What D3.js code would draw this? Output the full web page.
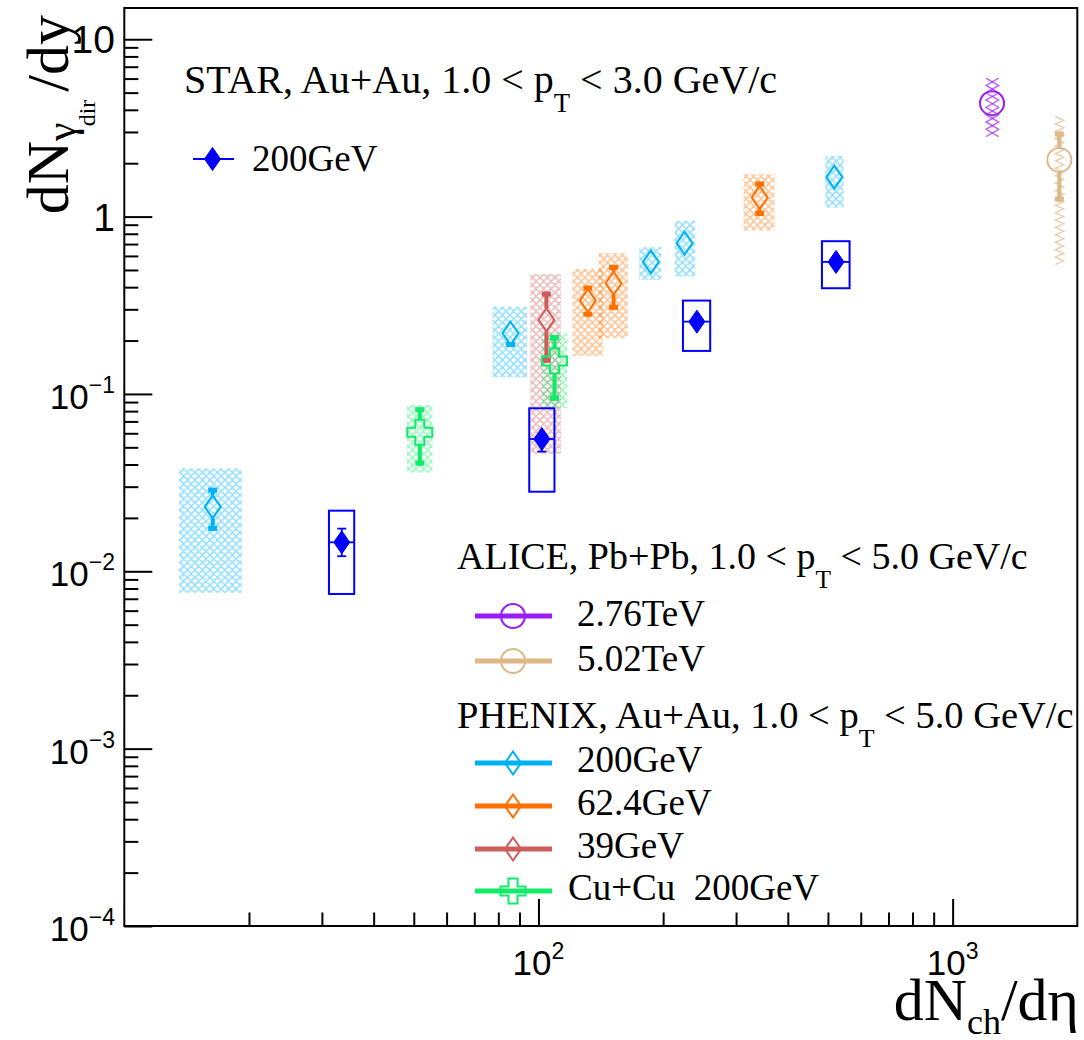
<!DOCTYPE html>
<html>
<head>
<meta charset="utf-8">
<script src="https://cdn.jsdelivr.net/npm/d3@7"></script>
<style>
  body { margin: 0; background: #fff; }
  text { font-family: "Liberation Serif", "Times New Roman", serif; }
  .tick-label { font-family: "Liberation Sans", Arial, sans-serif; }
</style>
</head>
<body>
<script>
// ---- data ----
// PHENIX Au+Au 200 GeV
const phx200X      = [16.35, 85.6, 186.8, 225.3, 518];
const phx200Y      = [0.0231, 0.220, 0.555, 0.708, 1.668];
const phx200StatHi = [0.0296, 0.240, 0.60, 0.76, 1.80];
const phx200StatLo = [0.0169, 0.184, 0.51, 0.66, 1.54];
const phx200SysHi  = [0.0381, 0.311, 0.672, 0.949, 2.20];
const phx200SysLo  = [0.00757, 0.124, 0.4396, 0.459, 1.124];
const phx200BoxLo  = [13.56, 77.4, 175.1, 213.1, 492.6];
const phx200BoxHi  = [19.21, 93.8, 197.9, 239.1, 545.4];

// PHENIX Au+Au 62.4 GeV
const phx62X      = [131.6, 151.8, 342];
const phx62Y      = [0.336, 0.421, 1.28];
const phx62StatHi = [0.408, 0.534, 1.575];
const phx62StatLo = [0.273, 0.298, 1.009];
const phx62SysHi  = [0.507, 0.622, 1.734];
const phx62SysLo  = [0.1637, 0.206, 0.834];
const phx62BoxLo  = [120.8, 139.6, 312.7];
const phx62BoxHi  = [143.0, 164.4, 371.5];

// PHENIX Au+Au 39 GeV
const phx39X      = [104.5];
const phx39Y      = [0.2615];
const phx39StatHi = [0.3776];
const phx39StatLo = [0.150];
const phx39SysHi  = [0.475];
const phx39SysLo  = [0.0459];
const phx39BoxLo  = [95.5];
const phx39BoxHi  = [113.4];

// PHENIX Cu+Cu 200 GeV
const cucuX      = [51.7, 109.3];
const cucuY      = [0.0608, 0.1535];
const cucuStatHi = [0.0841, 0.215];
const cucuStatLo = [0.0394, 0.0917];
const cucuSysHi  = [0.0867, 0.220];
const cucuSysLo  = [0.036, 0.083];
const cucuBoxLo  = [48.1, 101.9];
const cucuBoxHi  = [55.5, 117.5];

// STAR Au+Au 200 GeV
const starX      = [33.5, 101.9, 241.3, 523];
const starY      = [0.01457, 0.0557, 0.2557, 0.555];
const starStatHi = [0.0174, 0.060, 0.27, 0.58];
const starStatLo = [0.01216, 0.0473, 0.24, 0.53];
const starSysHi  = [0.02197, 0.0830, 0.336, 0.7265];
const starSysLo  = [0.00745, 0.0281, 0.1748, 0.3945];
const starBoxLo  = [31.2, 95.0, 223.3, 483.6];
const starBoxHi  = [35.9, 109.3, 259.8, 563.9];

// ALICE Pb+Pb
const alice276X = [1245], alice276Y = [4.36];
const alice276StatHi = [4.6], alice276StatLo = [4.1];
const alice276SysHi = [6.03], alice276SysLo = [2.65];
const alice276BoxLo = [1204], alice276BoxHi = [1292];

const alice502X = [1810], alice502Y = [2.088];
const alice502StatHi = [3.015], alice502StatLo = [1.215];
const alice502SysHi = [3.665], alice502SysLo = [0.512];
const alice502BoxLo = [1770], alice502BoxHi = [1854];

// axis ticks
const yMajor = [1e-4, 1e-3, 1e-2, 1e-1, 1, 10];
const yExp   = [-4, -3, -2, -1, 0, 1];
const xMajor = [100, 1000];
const xExp   = [2, 3];

const aliceLabels  = ["2.76TeV", "5.02TeV"];
const phenixLabels = ["200GeV", "62.4GeV", "39GeV", "Cu+Cu\u00A0\u00A0200GeV"];

// colours
const cPhx200 = "#00b2f5", cPhx62 = "#ff7000", cPhx39 = "#cd5c5c",
      cCuCu = "#12eb6a", cStar = "#0000ff", cA276 = "#9a1df5", cA502 = "#deb887";

// ---- build series ----
function series(X, Y, sH, sL, yH, yL, bL, bH) {
  return X.map((v, i) => ({ x: v, y: Y[i], statHi: sH[i], statLo: sL[i],
    sysHi: yH[i], sysLo: yL[i], boxLo: bL[i], boxHi: bH[i] }));
}
const phenix = [
  { name: "p200", color: cPhx200, marker: "diamond",
    data: series(phx200X, phx200Y, phx200StatHi, phx200StatLo, phx200SysHi, phx200SysLo, phx200BoxLo, phx200BoxHi) },
  { name: "p62", color: cPhx62, marker: "diamond",
    data: series(phx62X, phx62Y, phx62StatHi, phx62StatLo, phx62SysHi, phx62SysLo, phx62BoxLo, phx62BoxHi) },
  { name: "p39", color: cPhx39, marker: "diamond",
    data: series(phx39X, phx39Y, phx39StatHi, phx39StatLo, phx39SysHi, phx39SysLo, phx39BoxLo, phx39BoxHi) },
  { name: "cucu", color: cCuCu, marker: "cross",
    data: series(cucuX, cucuY, cucuStatHi, cucuStatLo, cucuSysHi, cucuSysLo, cucuBoxLo, cucuBoxHi) }
];
const star = series(starX, starY, starStatHi, starStatLo, starSysHi, starSysLo, starBoxLo, starBoxHi);
const alice = [
  { name: "a276", color: cA276, double: true, step: 7.3,
    data: series(alice276X, alice276Y, alice276StatHi, alice276StatLo, alice276SysHi, alice276SysLo, alice276BoxLo, alice276BoxHi) },
  { name: "a502", color: cA502, double: false, step: 3.7,
    data: series(alice502X, alice502Y, alice502StatHi, alice502StatLo, alice502SysHi, alice502SysLo, alice502BoxLo, alice502BoxHi) }
];

// ---- setup ----
const width = 1084, height = 1040;
const x = d3.scaleLog().domain([10, 2000]).range([124.3, 1077.3]);
const y = d3.scaleLog().domain([1e-4, 15]).range([926, 8]);

const svg = d3.select("body").append("svg")
  .attr("width", width).attr("height", height)
  .attr("viewBox", [0, 0, width, height]);

svg.append("rect").attr("width", width).attr("height", height).attr("fill", "#fff");

// hatch patterns
const defs = svg.append("defs");
phenix.forEach(s => {
  const p = defs.append("pattern").attr("id", "hatch-" + s.name)
    .attr("patternUnits", "userSpaceOnUse").attr("width", 7.5).attr("height", 7.5);
  p.append("path").attr("d", "M0,0 L7.5,7.5 M7.5,0 L0,7.5 M-1,6.5 L1,8.5 M6.5,-1 L8.5,1")
    .attr("stroke", s.color).attr("stroke-opacity", 0.42).attr("stroke-width", 1.5).attr("fill", "none");
});

const DW = 8, DH = 11.5;   // diamond half sizes
const CR = 12.5, CA = 4.5; // cross half size & arm half width

function markerPath(shape, cx, cy) {
  if (shape === "diamond")
    return `M${cx},${cy - DH}L${cx + DW},${cy}L${cx},${cy + DH}L${cx - DW},${cy}Z`;
  // open cross
  return `M${cx - CA},${cy - CR}H${cx + CA}V${cy - CA}H${cx + CR}V${cy + CA}H${cx + CA}V${cy + CR}` +
         `H${cx - CA}V${cy + CA}H${cx - CR}V${cy - CA}H${cx - CA}Z`;
}

// ---- systematic hatches (PHENIX) ----
const gSys = svg.append("g");
phenix.forEach(s => {
  gSys.selectAll(null).data(s.data).join("rect")
    .attr("x", d => x(d.boxLo)).attr("width", d => x(d.boxHi) - x(d.boxLo))
    .attr("y", d => y(d.sysHi)).attr("height", d => y(d.sysLo) - y(d.sysHi))
    .attr("fill", `url(#hatch-${s.name})`);
});

// ALICE zigzag systematics
const zz = d3.line();
alice.forEach(s => {
  s.data.forEach(d => {
    const x0 = x(d.boxLo), x1 = x(d.boxHi), y0 = y(d.sysHi), y1 = y(d.sysLo);
    const phases = s.double ? [0, 1] : [0];
    phases.forEach(ph => {
      const pts = [];
      for (let yy = y0, i = 0; yy <= y1 + 0.01; yy += s.step, i++) pts.push([((i + ph) % 2) ? x1 : x0, yy]);
      gSys.append("path").attr("d", zz(pts)).attr("fill", "none")
        .attr("stroke", s.color).attr("stroke-opacity", 0.65).attr("stroke-width", 1.5);
    });
  });
});

// STAR systematic boxes
gSys.selectAll(null).data(star).join("rect")
  .attr("x", d => x(d.boxLo)).attr("width", d => x(d.boxHi) - x(d.boxLo))
  .attr("y", d => y(d.sysHi)).attr("height", d => y(d.sysLo) - y(d.sysHi))
  .attr("fill", "none").attr("stroke", cStar).attr("stroke-width", 2);

// ---- stat error bars + markers ----
const gPts = svg.append("g");

function thickBars(data, color, half) {
  data.forEach(d => {
    const cx = x(d.x), cy = y(d.y), yt = y(d.statHi), yb = y(d.statLo);
    if (yt < cy - half) {
      gPts.append("line").attr("x1", cx).attr("x2", cx).attr("y1", cy - half).attr("y2", yt)
        .attr("stroke", color).attr("stroke-width", 4);
    }
    if (yt < cy - half + 2) gPts.append("rect").attr("x", cx - 4.5).attr("y", yt).attr("width", 9).attr("height", 5).attr("fill", color);
    if (yb > cy + half) {
      gPts.append("line").attr("x1", cx).attr("x2", cx).attr("y1", cy + half).attr("y2", yb)
        .attr("stroke", color).attr("stroke-width", 4);
    }
    if (yb > cy + half - 2) gPts.append("rect").attr("x", cx - 4.5).attr("y", yb - 5).attr("width", 9).attr("height", 5).attr("fill", color);
  });
}

phenix.forEach(s => {
  thickBars(s.data, s.color, s.marker === "diamond" ? DH : CR);
  gPts.selectAll(null).data(s.data).join("path")
    .attr("d", d => markerPath(s.marker, x(d.x), y(d.y)))
    .attr("fill", "none").attr("stroke", s.color).attr("stroke-width", 2);
});

alice.forEach(s => {
  thickBars(s.data, s.color, 12);
  gPts.selectAll(null).data(s.data).join("circle")
    .attr("cx", d => x(d.x)).attr("cy", d => y(d.y)).attr("r", 12)
    .attr("fill", "none").attr("stroke", s.color).attr("stroke-width", 2);
});

// STAR: x-error line, thin stat bars with caps, filled diamonds
star.forEach(d => {
  const cx = x(d.x), cy = y(d.y), yt = y(d.statHi), yb = y(d.statLo);
  gPts.append("line").attr("x1", x(d.boxLo)).attr("x2", x(d.boxHi)).attr("y1", cy).attr("y2", cy)
    .attr("stroke", cStar).attr("stroke-width", 1.8);
  [yt, yb].forEach(e => {
    if (Math.abs(e - cy) > DH) {
      gPts.append("line").attr("x1", cx).attr("x2", cx).attr("y1", cy).attr("y2", e)
        .attr("stroke", cStar).attr("stroke-width", 1.8);
      gPts.append("line").attr("x1", cx - 4.5).attr("x2", cx + 4.5).attr("y1", e).attr("y2", e)
        .attr("stroke", cStar).attr("stroke-width", 1.8);
    }
  });
});
gPts.selectAll(null).data(star).join("path")
  .attr("d", d => markerPath("diamond", x(d.x), y(d.y)))
  .attr("fill", cStar).attr("stroke", cStar).attr("stroke-width", 1);

// ---- frame and axes ----
const [x0, x1] = x.range(), [y1, y0] = y.range();
svg.append("rect").attr("x", x0).attr("y", y0).attr("width", x1 - x0).attr("height", y1 - y0)
  .attr("fill", "none").attr("stroke", "#000").attr("stroke-width", 2);

const yMinor = [];
[-4, -3, -2, -1, 0].forEach(e => { for (let k = 2; k <= 9; k++) yMinor.push(k * Math.pow(10, e)); });
const xMinor = [];
[1, 2].forEach(e => { for (let k = 2; k <= 9; k++) xMinor.push(k * Math.pow(10, e)); });

function styleAxis(g) {
  g.select(".domain").remove();
  g.selectAll("line").attr("stroke", "#000").attr("stroke-width", 2);
}
svg.append("g").attr("transform", `translate(${x0},0)`)
  .call(d3.axisLeft(y).tickValues(yMajor).tickSize(-28).tickFormat("")).call(styleAxis);
svg.append("g").attr("transform", `translate(${x0},0)`)
  .call(d3.axisLeft(y).tickValues(yMinor).tickSize(-14).tickFormat("")).call(styleAxis);
svg.append("g").attr("transform", `translate(0,${y1})`)
  .call(d3.axisBottom(x).tickValues(xMajor).tickSize(-27).tickFormat("")).call(styleAxis);
svg.append("g").attr("transform", `translate(0,${y1})`)
  .call(d3.axisBottom(x).tickValues(xMinor).tickSize(-13.5).tickFormat("")).call(styleAxis);

// y tick labels
yMajor.forEach((v, i) => {
  const t = svg.append("text").attr("class", "tick-label").attr("text-anchor", "end")
    .attr("x", 115);
  if (yExp[i] >= 0) {
    t.attr("y", y(v) + 14).attr("font-size", 39).text(v === 1 ? "1" : "10");
  } else {
    t.attr("y", y(v) + 15).attr("font-size", 35);
    t.append("tspan").text("10");
    t.append("tspan").attr("font-size", 23).attr("dy", -16).text("\u2212" + (-yExp[i]));
  }
});
// x tick labels
xMajor.forEach((v, i) => {
  const t = svg.append("text").attr("class", "tick-label").attr("text-anchor", "middle")
    .attr("x", x(v)).attr("y", 975).attr("font-size", 35);
  t.append("tspan").text("10");
  t.append("tspan").attr("font-size", 23).attr("dy", -16).text(xExp[i]);
});

// axis titles
const yt = svg.append("text").attr("transform", "translate(68,15) rotate(-90)")
  .attr("text-anchor", "end").attr("font-size", 60);
yt.append("tspan").text("dN");
yt.append("tspan").attr("font-size", 42).attr("dy", 7).text("\u03B3");
yt.append("tspan").attr("font-size", 24).attr("dy", 20).attr("dx", -4).text("dir");
yt.append("tspan").attr("dy", -27).attr("dx", 8).text("/dy");

const xt = svg.append("text").attr("x", 1079).attr("y", 1020)
  .attr("text-anchor", "end").attr("font-size", 60);
xt.append("tspan").text("dN");
xt.append("tspan").attr("font-size", 36).attr("dy", 14).text("ch");
xt.append("tspan").attr("dy", -14).text("/d\u03B7");

// ---- legends ----
function ptTitle(tx, ty, fs, pre, post) {
  const t = svg.append("text").attr("x", tx).attr("y", ty).attr("font-size", fs);
  t.append("tspan").text(pre);
  t.append("tspan").attr("font-size", fs * 0.67).attr("dy", 19).text("T");
  t.append("tspan").attr("dy", -19).text(post);
}
ptTitle(184, 93, 40, "STAR, Au+Au, 1.0 < p", " < 3.0 GeV/c");
ptTitle(457, 569, 38, "ALICE, Pb+Pb, 1.0 < p", " < 5.0 GeV/c");
ptTitle(457, 728, 38.5, "PHENIX, Au+Au, 1.0 < p", " < 5.0 GeV/c");

// STAR entry
svg.append("line").attr("x1", 193).attr("x2", 234).attr("y1", 159).attr("y2", 159)
  .attr("stroke", cStar).attr("stroke-width", 1.8);
svg.append("path").attr("d", markerPath("diamond", 212.5, 159)).attr("fill", cStar).attr("stroke", cStar);
svg.append("text").attr("x", 252).attr("y", 171).attr("font-size", 37).text("200GeV");

// ALICE entries
const aliceRowY = [616, 661];
alice.forEach((s, i) => {
  const ly = aliceRowY[i];
  svg.append("line").attr("x1", 475).attr("x2", 552).attr("y1", ly).attr("y2", ly)
    .attr("stroke", s.color).attr("stroke-width", 5);
  svg.append("circle").attr("cx", 513).attr("cy", ly).attr("r", 12)
    .attr("fill", "none").attr("stroke", s.color).attr("stroke-width", 2);
  svg.append("text").attr("x", 577).attr("y", ly + 10).attr("font-size", 37).text(aliceLabels[i]);
});

// PHENIX entries
const phenixRowY = [763, 806, 849, 891];
phenix.forEach((s, i) => {
  const ly = phenixRowY[i];
  svg.append("line").attr("x1", 475).attr("x2", 552).attr("y1", ly).attr("y2", ly)
    .attr("stroke", s.color).attr("stroke-width", 5);
  svg.append("path").attr("d", markerPath(s.marker, 513, ly))
    .attr("fill", "none").attr("stroke", s.color).attr("stroke-width", 2);
  svg.append("text").attr("x", i === 3 ? 568 : 577).attr("y", ly + 9).attr("font-size", 37)
    .text(phenixLabels[i]);
});
</script>
</body>
</html>
